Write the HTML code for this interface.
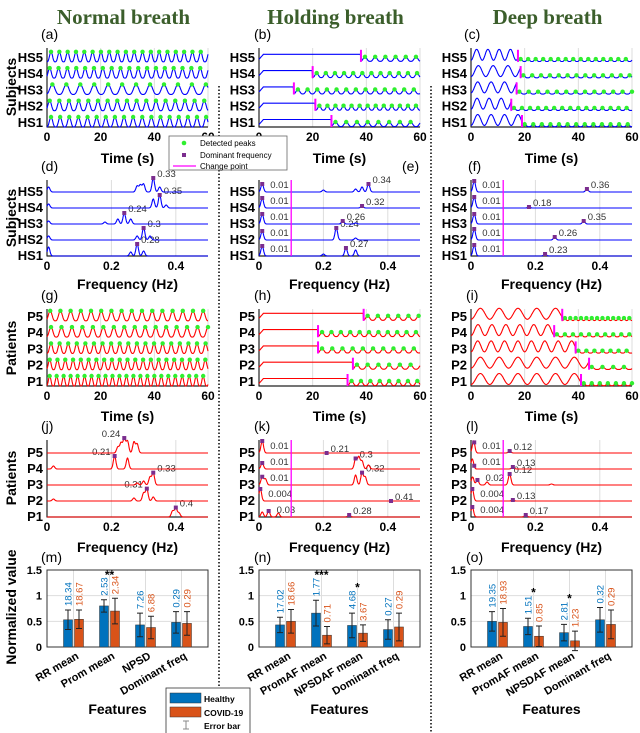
<!DOCTYPE html>
<html><head><meta charset="utf-8"><style>
html,body{margin:0;padding:0;background:#fff;}
svg{display:block;font-family:"Liberation Sans",sans-serif;}
</style></head><body>
<svg id="fig" width="640" height="733" viewBox="0 0 640 733"></svg>
<script>
// ---------- data ----------
const aPeriod=[3.4,3.6,5.2,3.3,3.1];
const aPhase=[1.5,1,2,1,1.5];
const gPeriod=[2.6,2.9,3.2,3.9,3.8];
const gPhase=[1,1,1.5,1.5,1.2];
const bChange=[27,21,13,20,38];
const bPeriod=[4,3,3.6,3.4,3.8];
const hChange=[33,35,22,22,39];
const hPeriod=[3.5,4,3.8,3.5,3.8];
const cChange=[19,15,17,18.5,17.5];
const cPrePeriod=[5,4.5,5,5.5,4.2];
const cPostPeriod=[3.2,3,3.5,3.3,2.8];
const iChange=[41,44,39,31,34];
const iPrePeriod=[7,7,5,5.2,7];
const iPostPeriod=[3,4,3,3,2];
const dF=[[0.005,0.28,0.3,0.26],[0.005,0.30,0.32,0.28],[0.005,0.24,0.22,0.26,0.18],[0.005,0.35,0.33,0.37],[0.005,0.33,0.3,0.29,0.35,0.28]];
const dH=[[9,12,5,4],[4,12,4,4],[3,11,5,5,2],[4,13,9,3],[5,14,8,7,5,6]];
const dMark=[[0.28],[0.3],[0.24],[0.35],[0.33]];
const eF=[[0.01,0.27,0.3,0.2],[0.01,0.24,0.3],[0.01,0.26,0.3],[0.01,0.32],[0.01,0.34,0.32,0.3,0.2]];
const eH=[[10,8,6,2],[9,12,2],[10,3,1],[10,2],[8,8,5,3,2]];
const eMark=[[0.01,0.27],[0.01,0.24],[0.01,0.26],[0.01,0.32],[0.01,0.34]];
const fF=[[0.01,0.23],[0.01,0.26],[0.01,0.35],[0.01,0.18],[0.01,0.36]];
const fH=[[11,2],[11,3],[10,3],[11,1],[11,3]];
const fMark=[[0.01,0.23],[0.01,0.26],[0.01,0.35],[0.01,0.18],[0.01,0.36]];
const jF=[[0.4,0.39,0.41],[0.31,0.3,0.33,0.27,0.02],[0.33,0.32,0.3,0.28],[0.21,0.25,0.02],[0.24,0.23,0.25,0.27,0.28,0.22]];
const jH=[[9,6,4],[12,8,4,3,2],[12,8,4,2],[13,11,3],[14,10,12,11,9,6]];
const jMark=[[0.4],[0.31],[0.33],[0.21],[0.24]];
const jSide=[1,-1,1,-1,-1];
const kF=[[0.03,0.01,0.06,0.28],[0.004],[0.01,0.02,0.3,0.32,0.33],[0.01,0.3,0.31,0.32,0.34],[0.01,0.21]];
const kH=[[6,5,4,2],[12],[8,6,10,12,8],[6,10,12,8,4],[12,0]];
const kMark=[[0.03,0.28],[0.004,0.41],[0.01,0.32],[0.01,0.3],[0.01,0.21]];
const lF=[[0.004,0.17],[0.004,0.13],[0.02,0.005,0.05,0.12,0.25],[0.004,0.13],[0.008,0.12]];
const lH=[[10,2],[12,1],[5,8,3,11,1],[10,2],[12,2]];
const lMark=[[0.004,0.17],[0.004,0.13],[0.02,0.12],[0.01,0.13],[0.01,0.12]];
const mCats=["RR mean","Prom mean","NPSD","Dominant freq"];
const mH=[0.53,0.80,0.43,0.48], mC=[0.54,0.70,0.38,0.46];
const mHe=[0.19,0.12,0.23,0.21], mCe=[0.18,0.25,0.22,0.23];
const mHl=["18.34","2.53","7.26","0.29"], mCl=["18.67","2.34","6.88","0.29"];
const mStars=["","**","",""];
const nCats=["RR mean","PromAF mean","NPSDAF mean","Dominant freq"];
const nH=[0.43,0.66,0.42,0.34], nC=[0.50,0.23,0.27,0.39];
const nHe=[0.15,0.25,0.24,0.19], nCe=[0.23,0.17,0.16,0.27];
const nHl=["17.02","1.77","4.68","0.27"], nCl=["18.66","0.71","3.67","0.29"];
const nStars=["","***","*",""];
const oCats=["RR mean","PromAF mean","NPSDAF mean","Dominant freq"];
const oH=[0.50,0.40,0.28,0.53], oC=[0.48,0.21,0.12,0.44];
const oHe=[0.19,0.16,0.16,0.24], oCe=[0.27,0.20,0.19,0.28];
const oHl=["19.35","1.51","2.81","0.32"], oCl=["18.93","0.85","1.23","0.29"];
const oStars=["","*","*",""];
const yTicks=[0,0.5,1,1.5];
const timeTicks=[0,20,40,60];
const freqTicks=[0,0.2,0.4];

// ---------- helpers ----------
const NS='http://www.w3.org/2000/svg';
const svg=document.getElementById('fig');
function mk(tag,attrs,parent){const e=document.createElementNS(NS,tag);for(const k in attrs)e.setAttribute(k,attrs[k]);(parent||svg).appendChild(e);return e;}
function txt(x,y,s,size,weight,anchor,fill,parent,extra){const e=mk('text',Object.assign({x:x,y:y,'font-size':size,'font-weight':weight||'normal','text-anchor':anchor||'start',fill:fill||'#000'},extra||{}),parent);e.textContent=s;return e;}
const COLS=[[47,208],[259,420],[471,632]];
const BLUE='#0000ff', RED='#ff0000', GREEN='#2fef2f', MAG='#ff00ff', PUR='#7b2d8e';
const AMP=5;

const titles=["Normal breath","Holding breath","Deep breath"];
titles.forEach((t,i)=>{const e=txt((COLS[i][0]+COLS[i][1])/2-4,24,t,21,'bold','middle','#3b5e2b',null,{'font-family':'"Liberation Serif",serif'});

});
[219,431].forEach(x=>{const l=mk('line',{x1:x,y1:86,x2:x,y2:733,stroke:'#000','stroke-width':1.5,'stroke-dasharray':'1.5 2'});

});

function axesFrame(g,X,Y,ticks,xmin,xmax,fmt){
  const sx=v=>X[0]+(v-xmin)/(xmax-xmin)*(X[1]-X[0]);
  ticks.forEach(t=>{if(t>xmin)mk('line',{x1:sx(t),y1:Y[0],x2:sx(t),y2:Y[1],stroke:'#ddd','stroke-width':1},g);
    const tl=txt(sx(t),Y[1]+14,fmt(t),12,'bold','middle','#000',g);
    
    });
  mk('line',{x1:X[0],y1:Y[0],x2:X[0],y2:Y[1]+0.5,stroke:'#222','stroke-width':1.2},g);
  mk('line',{x1:X[0],y1:Y[1],x2:X[1],y2:Y[1],stroke:'#222','stroke-width':1.2},g);
  return sx;
}
function rowLabels(g,X,centers,prefix){
  centers.forEach((c,i)=>{const e=txt(X[0]-4,c+5,prefix+(i+1),13,'bold','end','#000',g);
  
  });
}
function panelLabel(x,y,s){const e=txt(x,y,s,14,'normal','start');

}
function axisTitle(x,y,s,rot){const e=txt(x,y,s,14,'bold','middle','#000',null,rot?{transform:`rotate(-90 ${x} ${y})`}:{});

}

function timePanel(name,col,Y,prefix,color,valFn,peakFn,changeArr){
  const g=mk('g',{});
  
  
  const X=COLS[col];
  const sx=axesFrame(g,X,Y,timeTicks,0,60,v=>String(v));
  const centers=[0,1,2,3,4].map(i=>Y[1]-5-i*16.3);
  rowLabels(g,X,centers,prefix);
  for(let i=0;i<5;i++){
    let d='';
    for(let k=0;k<=300;k++){const t=k*0.2;const y=centers[i]-valFn(t,i)*AMP;d+=(k?'L':'M')+sx(t).toFixed(1)+' '+y.toFixed(1);}
    const p=mk('path',{d:d,fill:'none',stroke:color,'stroke-width':1.1},g);
    
    
    peakFn(i).forEach(t=>{if(t>=0&&t<=60){const c=mk('circle',{cx:sx(t),cy:centers[i]-valFn(t,i)*AMP,r:2.2,fill:GREEN},g);
      
      }});
    if(changeArr){const x=sx(changeArr[i]);const l=mk('line',{x1:x,y1:centers[i]-7,x2:x,y2:centers[i]+5,stroke:MAG,'stroke-width':2},g);
      
      }
  }
}
function periodicPeaks(start,p,end){const r=[];for(let t=start;t<=end;t+=p)r.push(t);return r;}
const cosv=(t,p,ph)=>2*Math.pow((1+Math.cos(2*Math.PI*(t-ph)/p))/2,1.6)-1;

function specPanel(name,col,Y,prefix,color,F,H,marks,side,cp){
  const g=mk('g',{});
  
  
  const X=COLS[col];
  const sx=axesFrame(g,X,Y,freqTicks,0,0.5,v=>String(v));
  const bases=[0,1,2,3,4].map(i=>Y[1]-i*16);
  rowLabels(g,X,bases.map(b=>b-1),prefix);
  const spec=(f,i)=>{let s=0;F[i].forEach((f0,j)=>{s+=H[i][j]*Math.exp(-Math.pow(f-f0,2)/(2*0.004*0.004));});return s;};
  for(let i=0;i<5;i++){
    let d='';
    for(let k=0;k<=500;k++){const f=k*0.001;const y=bases[i]-spec(f,i);d+=(k?'L':'M')+sx(f).toFixed(1)+' '+y.toFixed(1);}
    const p=mk('path',{d:d,fill:'none',stroke:color,'stroke-width':1.1},g);
    
    
    marks[i].forEach(f=>{const x=sx(f),y=bases[i]-spec(f,i);
      const r=mk('rect',{x:x-2,y:y-2,width:4,height:4,fill:PUR},g);
      
      
      const sd=side?side[i]:1;
      const lx=f<0.05?x+8:(sd>0?x+4:x-4);
      const ly=f<0.05?bases[i]-4:y-1;
      const t=txt(lx,ly,String(f),9.5,'normal',sd>0||f<0.05?'start':'end','#333',g);
      
      });
  }
  if(cp){const l=mk('line',{x1:sx(0.1),y1:Y[0],x2:sx(0.1),y2:Y[1],stroke:MAG,'stroke-width':1.3},g);
    
    }
}

function barPanel(name,col,cats,hv,cv,he,ce,hl,cl,stars){
  const g=mk('g',{});
  
  
  const X=COLS[col], Y=[570,647];
  const sy=v=>Y[1]-v/1.5*(Y[1]-Y[0]);
  const cx=i=>X[0]+26.5+i*36;
  yTicks.forEach(t=>{if(t>0&&t<1.5)mk('line',{x1:X[0],y1:sy(t),x2:X[1],y2:sy(t),stroke:'#ddd'},g);
    const e=txt(X[0]-5,sy(t)+4,String(t),11,'bold','end','#000',g);
    
    });
  cats.forEach((c,i)=>{mk('line',{x1:cx(i),y1:Y[0],x2:cx(i),y2:Y[1],stroke:'#ddd'},g);
    const e=txt(cx(i)+6,658,c,11,'bold','end','#000',g,{transform:`rotate(-30 ${cx(i)+6} 658)`});
    
    });
  mk('rect',{x:X[0],y:Y[0],width:X[1]-X[0],height:Y[1]-Y[0],fill:'none',stroke:'#333','stroke-width':1},g);
  const series=[[hv,he,hl,'#0072BD',-5.5,'bar-healthy'],[cv,ce,cl,'#D95319',5.5,'bar-covid']];
  series.forEach(s=>{
    s[0].forEach((v,i)=>{const x=cx(i)+s[4];
      const r=mk('rect',{x:x-4.5,y:sy(v),width:9,height:sy(0)-sy(v),fill:s[3],stroke:'#333','stroke-width':0.5},g);
      
      
      const e=s[1][i];
      const eb=mk('path',{d:`M${x} ${sy(v-e)}V${sy(v+e)}M${x-3} ${sy(v-e)}H${x+3}M${x-3} ${sy(v+e)}H${x+3}`,stroke:'#222','stroke-width':1,fill:'none'},g);
      
      
      const ty=sy(v+e)-4;
      const t=txt(x+3.5,ty,s[2][i],9.5,'normal','start',s[3],g,{transform:`rotate(-90 ${x+3.5} ${ty})`});
      
      });
  });
  stars.forEach((s,i)=>{if(s){
    const top=Math.min(sy(hv[i]+he[i])-4-hl[i].length*5.2,sy(cv[i]+ce[i])-4-cl[i].length*5.2);
    const t=txt(cx(i),Math.max(top+3,Y[0]+9),s,12,'bold','middle','#000',g);
    
    }});
}

// ---------- draw ----------
const T1=[48,127],S1=[180,256],T2=[309,386],S2=[440,517];
timePanel('panel-a',0,T1,'HS',BLUE,(t,i)=>cosv(t,aPeriod[i],aPhase[i]),i=>periodicPeaks(aPhase[i],aPeriod[i],60),null);
timePanel('panel-g',0,T2,'P',RED,(t,i)=>cosv(t,gPeriod[i],gPhase[i]),i=>periodicPeaks(gPhase[i],gPeriod[i],60),null);
const holdV=(ch,per)=>(t,i)=>t<1.5?-0.5+t*0.6:(t<ch[i]?0.5:-0.45+0.45*cosv(t,per[i],ch[i]+1.5));
timePanel('panel-b',1,T1,'HS',BLUE,holdV(bChange,bPeriod),i=>periodicPeaks(bChange[i]+1.5,bPeriod[i],60),bChange);
timePanel('panel-h',1,T2,'P',RED,holdV(hChange,hPeriod),i=>periodicPeaks(hChange[i]+1.5,hPeriod[i],60),hChange);
const deepV=(ch,pre,post)=>(t,i)=>t<ch[i]?0.4+1.1*Math.cos(2*Math.PI*(t-pre[i]/2)/pre[i]):-0.7+0.25*cosv(t,post[i],ch[i]+1);
timePanel('panel-c',2,T1,'HS',BLUE,deepV(cChange,cPrePeriod,cPostPeriod),i=>periodicPeaks(cChange[i]+1,cPostPeriod[i],60),cChange);
timePanel('panel-i',2,T2,'P',RED,deepV(iChange,iPrePeriod,iPostPeriod),i=>periodicPeaks(iChange[i]+1,iPostPeriod[i],60),iChange);
specPanel('panel-d',0,S1,'HS',BLUE,dF,dH,dMark,null,false);
specPanel('panel-e',1,S1,'HS',BLUE,eF,eH,eMark,null,true);
specPanel('panel-f',2,S1,'HS',BLUE,fF,fH,fMark,null,true);
specPanel('panel-j',0,S2,'P',RED,jF,jH,jMark,jSide,false);
specPanel('panel-k',1,S2,'P',RED,kF,kH,kMark,null,true);
specPanel('panel-l',2,S2,'P',RED,lF,lH,lMark,null,true);
barPanel('panel-m',0,mCats,mH,mC,mHe,mCe,mHl,mCl,mStars);
barPanel('panel-n',1,nCats,nH,nC,nHe,nCe,nHl,nCl,nStars);
barPanel('panel-o',2,oCats,oH,oC,oHe,oCe,oHl,oCl,oStars);

[['(a)',41,39],['(b)',254,39],['(c)',464,39],['(d)',41,171],['(e)',402,171],['(f)',468,171],
 ['(g)',41,300],['(h)',254,300],['(i)',466,300],['(j)',41,431],['(k)',254,431],['(l)',466,431],
 ['(m)',41,562],['(n)',254,562],['(o)',466,562]].forEach(a=>panelLabel(a[1],a[2],a[0]));
COLS.forEach((X,i)=>{const c=(X[0]+X[1])/2;
  axisTitle(c,163,'Time (s)');axisTitle(c,289,'Frequency (Hz)');
  axisTitle(c,421,'Time (s)');axisTitle(c,552,'Frequency (Hz)');axisTitle(c+(i===0?-10:0),714,'Features');});
axisTitle(16,87,'Subjects',true);axisTitle(16,218,'Subjects',true);
axisTitle(16,348,'Patients',true);axisTitle(16,478,'Patients',true);
axisTitle(16,607,'Normalized value',true);

(function(){const g=mk('g',{});


mk('rect',{x:169,y:136,width:118,height:34,fill:'#fff',stroke:'#666','stroke-width':0.8},g);
mk('circle',{cx:184,cy:143,r:2.3,fill:GREEN},g);
txt(200,146,'Detected peaks',8,'normal','start','#000',g);
mk('rect',{x:182,y:153,width:4,height:4,fill:PUR},g);
txt(200,158,'Dominant frequency',8,'normal','start','#000',g);
mk('line',{x1:173,y1:166,x2:196,y2:166,stroke:MAG,'stroke-width':1.3},g);
txt(200,169,'Change point',8,'normal','start','#000',g);})();
(function(){const g=mk('g',{});


mk('rect',{x:166,y:688,width:84,height:46,fill:'#fff',stroke:'#333','stroke-width':0.8},g);
mk('rect',{x:170,y:693,width:31,height:10,fill:'#0072BD',stroke:'#333','stroke-width':0.5},g);
txt(204,702,'Healthy',8.5,'bold','start','#000',g);
mk('rect',{x:170,y:707,width:31,height:10,fill:'#D95319',stroke:'#333','stroke-width':0.5},g);
txt(204,716,'COVID-19',8.5,'bold','start','#000',g);
mk('path',{d:'M186 721V729M183 721H189M183 729H189',stroke:'#888','stroke-width':1,fill:'none'},g);
txt(204,729,'Error bar',8.5,'bold','start','#000',g);})();
</script>
</body></html>
